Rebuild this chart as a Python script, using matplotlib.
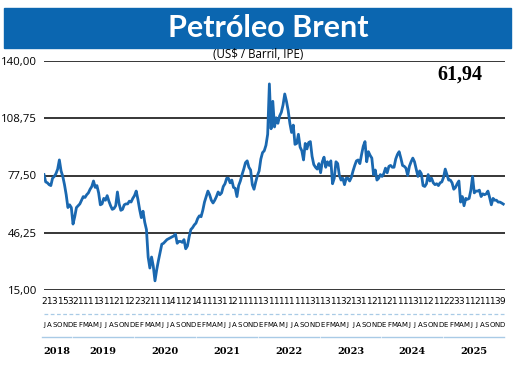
import numpy as np
import matplotlib
matplotlib.use("Agg")
import matplotlib.pyplot as plt
from matplotlib.transforms import blended_transform_factory
from matplotlib.patches import Rectangle

# Brent, US$/barrel, ~3 readings per month, Jul 2018 - Dec 2025
y2018 = [78, 74, 73.5, 72.5, 72, 76, 77, 78.5, 81, 86, 80, 77,
         72.5, 67, 60, 61.5, 60, 51]
y2019 = [55, 60, 61, 62, 64, 66, 65.5, 67, 68, 70, 71.5, 74.5,
         71, 72, 68, 61.5, 62, 65, 64, 66.5, 63.5, 61, 59, 59.5,
         61, 68.5, 62, 58.5, 59, 61.5, 62, 62, 63.5, 63, 65, 66.5]
y2020 = [69, 64.5, 59, 54.5, 58, 52, 48, 33, 27, 33, 28, 20,
         26, 31, 35.5, 40, 40.5, 41.5, 42.5, 43, 43.5, 44, 44.5, 45.5,
         40.5, 41.5, 41.5, 41, 42.5, 37.5, 39, 44, 48, 49, 50.5, 51.5]
y2021 = [54, 55.5, 55, 58.5, 63, 66, 69, 67, 64, 62.5, 64, 66,
         68.5, 67, 68, 71.5, 73, 76, 76, 73.5, 75, 71, 70.5, 66,
         72, 74.5, 78, 81, 84.5, 85.5, 82, 80.5, 72.5, 70, 74, 77.5]
y2022 = [80, 86.5, 90, 91, 94, 100, 127.5, 103, 118, 104, 109, 106,
         110, 112, 116, 122, 118, 113, 106, 101, 105, 94.5, 95, 100,
         93, 91, 86, 95, 92, 95.5, 96, 88, 83.5, 82, 81, 84]
y2023 = [79, 85, 87.5, 82, 85, 83, 85.5, 73, 76, 85, 84, 77.5,
         75, 76, 72.5, 76, 76, 74.5, 76.5, 80, 83, 85.5, 86, 84,
         89, 93.5, 96, 85, 90.5, 88.5, 87, 78, 80.5, 75, 76, 78]
y2024 = [77, 78.5, 81.5, 79, 82.5, 83, 82, 82, 86.5, 89, 90.5, 87,
         83, 82.5, 81.5, 77.5, 82.5, 85, 87, 85, 81, 77, 80, 78.5,
         72, 71.5, 73, 78, 74.5, 76, 73.5, 72.5, 73, 72, 73.5, 74]
y2025 = [76.5, 81, 78, 75, 75, 73.5, 70, 71, 73, 74.5, 63, 66,
         61, 65, 64.5, 65, 69.5, 77, 68, 69, 69, 69.5, 66, 67.5,
         67, 67.5, 69, 65.5, 61.5, 65, 64, 64, 63, 63, 62.5, 61.9]
prices = y2018 + y2019 + y2020 + y2021 + y2022 + y2023 + y2024 + y2025

last_value = "61,94"
yticks = [15, 46.25, 77.5, 108.75, 140]
ytick_labels = ["15,00", "46,25", "77,50", "108,75", "140,00"]
years = ["2018", "2019", "2020", "2021", "2022", "2023", "2024", "2025"]
months_per_year = [6, 12, 12, 12, 12, 12, 12, 12]
month_letters = "JASOND" + "EFMAMJJASOND" * 7
day_digits = ("2131532111131121122321111411214111311211111"
              "31111111131131132131121121111311211223311211139")

blue = "#1a68b0"
light = "#a9cbe6"

fig = plt.figure(figsize=(5.2, 3.76), dpi=100)
ax = fig.add_axes([44/520, 1-290/376, 461/520, 229/376])

x = np.arange(len(prices)) / 3.0
ax.plot(x, prices, color=blue, lw=2.0, zorder=3, solid_joinstyle="round")

for v in yticks:
    ax.axhline(v, color="black", lw=1.1, zorder=1)
ax.set_xlim(0, 90)
ax.set_ylim(15, 140)
ax.set_yticks(yticks)
ax.set_yticklabels(ytick_labels, family=["Open Sans", "DejaVu Sans"], fontsize=8.2)
ax.tick_params(axis="y", length=0, pad=5)
ax.set_xticks([])
for s in ax.spines.values():
    s.set_visible(False)
ax.patch.set_alpha(0)

# title banner
fig.patches.append(Rectangle((4/520, 1-48/376), 507/520, 40/376,
                             transform=fig.transFigure, color="#0b66b0", zorder=0))
fig.text(268/520, 1-28/376, "Petróleo Brent", color="white", fontsize=22,
         fontweight="bold", family=["Lato", "DejaVu Sans"], ha="center", va="center")
fig.text(258/520, 1-55/376, "(US$ / Barril, IPE)", fontsize=8.3,
         family=["Open Sans", "DejaVu Sans"], ha="center", va="center")
fig.text(460/520, 1-75/376, last_value, fontsize=14.5, fontweight="bold",
         family=["Liberation Serif", "DejaVu Serif"], ha="center", va="center")

# x-axis labels
tr = blended_transform_factory(ax.transData, fig.transFigure)
pos = np.linspace(0, 89.5, 90)
cond = ["Liberation Sans Narrow", "DejaVu Sans"]
for i in range(90):
    fig.text(pos[i], 1-302/376, day_digits[i], transform=tr, fontsize=6.4,
             family=cond, ha="center", va="center")
    fig.text(pos[i], 1-325/376, month_letters[i], transform=tr, fontsize=5.0,
             family=cond, ha="center", va="center")
fig.add_artist(plt.Line2D([0, 90], [1-314/376]*2, transform=tr, color=light,
                          lw=0.9, ls=(0, (3, 2))))
start = 0
for yr, n in zip(years, months_per_year):
    a, b = pos[start], pos[start+n-1]
    fig.add_artist(plt.Line2D([a-0.3, b+0.3], [1-337/376]*2, transform=tr,
                              color=light, lw=1.0))
    fig.text((a+b)/2, 1-351/376, yr, transform=tr, fontsize=7, fontweight="bold",
             family=["Liberation Sans Narrow", "DejaVu Serif"], ha="center", va="center")
    start += n

fig.savefig("out.png", dpi=100)
